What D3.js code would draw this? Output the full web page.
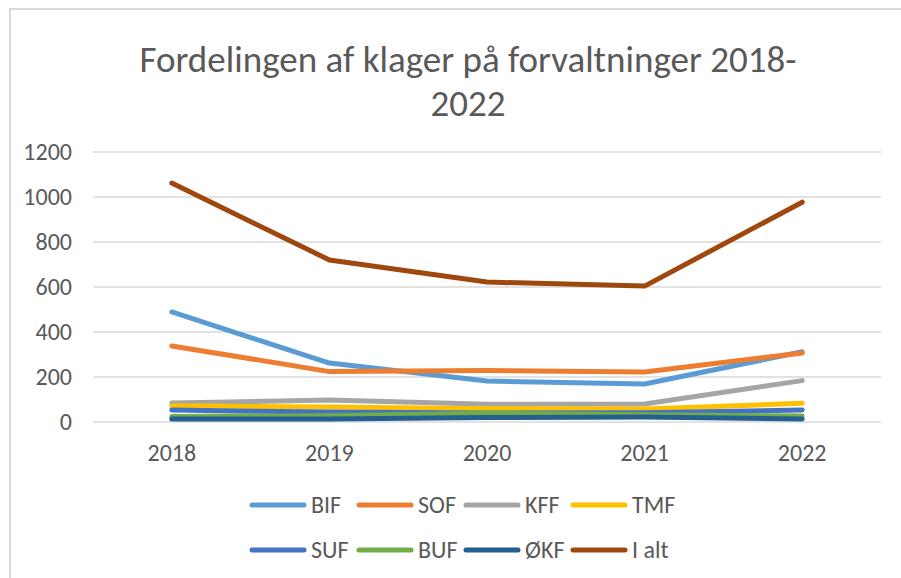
<!DOCTYPE html>
<html>
<head>
<meta charset="utf-8">
<script src="https://cdn.jsdelivr.net/npm/d3@7"></script>
<style>
  body { margin: 0; background: #fff; }
  text { font-family: Carlito, "Liberation Sans", "Open Sans", sans-serif; fill: #595959; }
</style>
</head>
<body>
<div id="chart"></div>
<script>
// data
var years = ["2018", "2019", "2020", "2021", "2022"];
var seriesNames = ["BIF", "SOF", "KFF", "TMF", "SUF", "BUF", "ØKF", "I alt"];
var BIF  = [489, 262, 182, 169, 312];
var SOF  = [338, 224, 229, 222, 307];
var KFF  = [84, 98, 79, 80, 184];
var TMF  = [72, 67, 59, 58, 83];
var SUF  = [53, 44, 40, 41, 53];
var BUF  = [24, 28, 39, 32, 27];
var OKF  = [13, 13, 20, 22, 13];
var Ialt = [1062, 720, 622, 604, 977];
var yTicks = [0, 200, 400, 600, 800, 1000, 1200];
var colors = ["#5b9bd5", "#ed7d31", "#a5a5a5", "#ffc000", "#4472c4", "#70ad47", "#255e91", "#9e480e"];

var W = 901, H = 578;
var margin = {top: 152, left: 93};
var width = 881 - margin.left, height = 422 - margin.top;

var values = [BIF, SOF, KFF, TMF, SUF, BUF, OKF, Ialt];
var dataset = seriesNames.map(function(n, i){
  return {name: n, color: colors[i], values: values[i]};
});

var svg = d3.select("#chart").append("svg")
  .attr("width", W).attr("height", H);

// chart area border (only top/left visible in the crop)
svg.append("rect")
  .attr("x", 10).attr("y", 9)
  .attr("width", W + 20).attr("height", H + 20)
  .attr("fill", "#fff").attr("stroke", "#d9d9d9")
  .attr("stroke-width", 2);

// title
var title = svg.append("text")
  .attr("text-anchor", "middle")
  .style("font-size", "37px");
title.append("tspan").attr("x", 468).attr("y", 72).text("Fordelingen af klager på forvaltninger 2018-");
title.append("tspan").attr("x", 468).attr("y", 116).text("2022");

var g = svg.append("g")
  .attr("transform", "translate(" + margin.left + "," + margin.top + ")");

var x = d3.scaleBand().domain(years).range([0, width]);
var y = d3.scaleLinear().domain([0, 1200]).range([height, 0]);

// gridlines
g.selectAll(".grid")
  .data(yTicks).enter().append("line")
  .attr("class", "grid")
  .attr("x1", 0).attr("x2", width)
  .attr("y1", function(d){ return y(d); })
  .attr("y2", function(d){ return y(d); })
  .attr("stroke", "#d9d9d9")
  .attr("stroke-width", 1.5);

// y labels
g.selectAll(".ylab")
  .data(yTicks).enter().append("text")
  .attr("class", "ylab")
  .attr("x", -21)
  .attr("y", function(d){ return y(d); })
  .attr("dy", "0.35em")
  .attr("text-anchor", "end")
  .style("font-size", "24px")
  .text(function(d){ return d; });

// x labels
g.selectAll(".xlab")
  .data(years).enter().append("text")
  .attr("class", "xlab")
  .attr("x", function(d){ return x(d) + x.bandwidth() / 2; })
  .attr("y", height + 39)
  .attr("text-anchor", "middle")
  .style("font-size", "24px")
  .text(function(d){ return d; });

var line = d3.line()
  .x(function(d, i){ return x(years[i]) + x.bandwidth() / 2; })
  .y(function(d){ return y(d); });

g.selectAll(".series")
  .data(dataset).enter().append("path")
  .attr("class", "series")
  .attr("fill", "none")
  .attr("stroke", function(d){ return d.color; })
  .attr("stroke-width", 5)
  .attr("stroke-linecap", "round")
  .attr("stroke-linejoin", "round")
  .attr("d", function(d){ return line(d.values); });

// legend
var legend = svg.append("g").attr("class", "legend");
var item = legend.selectAll(".item")
  .data(dataset).enter().append("g")
  .attr("class", "item")
  .attr("transform", function(d, i){
    return "translate(" + (252 + (i % 4) * 107) + "," + (505 + Math.floor(i / 4) * 45) + ")";
  });
item.append("line")
  .attr("x1", 0).attr("x2", 52)
  .attr("stroke", function(d){ return d.color; })
  .attr("stroke-width", 5)
  .attr("stroke-linecap", "round");
item.append("text")
  .attr("x", 59)
  .attr("dy", "0.35em")
  .style("font-size", "24px")
  .text(function(d){ return d.name; });
</script>
</body>
</html>
